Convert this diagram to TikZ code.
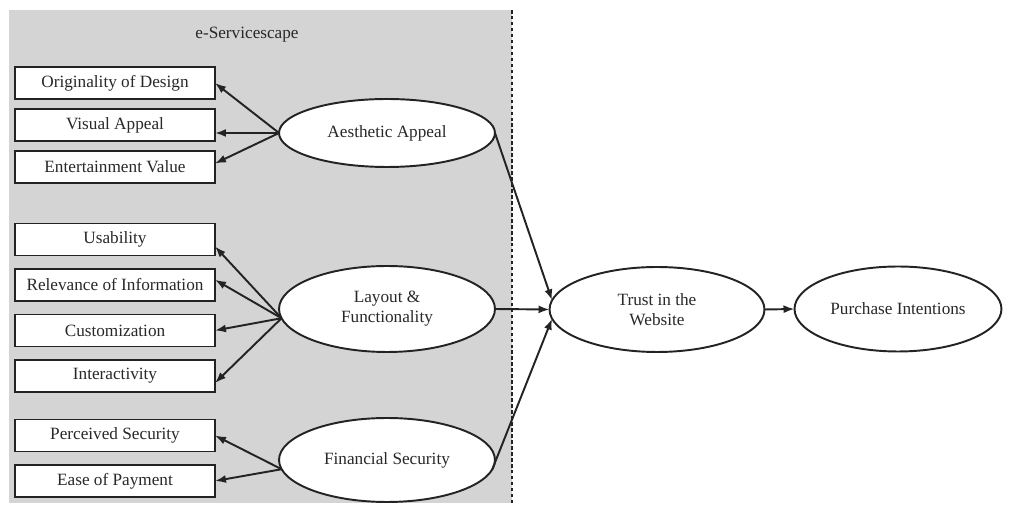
\documentclass[tikz,border=0pt]{standalone}
\usepackage{fontspec}
\setmainfont{Liberation Serif}
\usetikzlibrary{arrows.meta,positioning,shapes.geometric}
\definecolor{esedge}{RGB}{35,35,35}
\definecolor{esink}{RGB}{40,40,40}
\definecolor{esbg}{RGB}{212,212,212}
\tikzset{
  esbox/.style={
    draw=esedge, line width=1.1pt, fill=white, text=esink,
    minimum width=4cm, minimum height=0.64cm, inner sep=1pt, outer sep=0pt,
    font=\fontsize{9.8}{11.5}\selectfont
  },
  lat/.style={
    ellipse, draw=esedge, line width=1.1pt, fill=white, text=esink,
    minimum width=4.32cm, minimum height=1.72cm, inner sep=0pt, outer sep=0pt,
    align=center, font=\fontsize{9.8}{11.5}\selectfont
  },
  arr/.style={-{Latex[length=2.2mm,width=1.6mm]}, draw=esedge, line width=1.1pt},
  zone/.style={fill=esbg},
  zoneline/.style={draw=esedge, line width=0.9pt, dash pattern=on 2pt off 1.4pt},
  zonelabel/.style={text=esink, font=\fontsize{9.8}{11.5}\selectfont}
}
\begin{document}
\begin{tikzpicture}[x=0.02cm, y=-0.02cm]
  \useasboundingbox (0,0) rectangle (1012,506);
  % e-SERVICESCAPE
  \fill[zone] (9,10) rectangle (512,503);
  \draw[zoneline] (512,10) -- (512,506);
  \node[zonelabel] (es) at (247,35) {e-Servicescape};
  % AESTHETIC
  \node[esbox] (og) at (115,83) {Originality of Design};
  \node[esbox, below=0.2cm of og] (va) {Visual Appeal};
  \node[esbox, below=0.2cm of va] (ev) {Entertainment Value};
  \node[lat, minimum height=1.36cm] (aa) at (387,133) {Aesthetic Appeal};
  % LAYOUT
  \node[esbox] (us) at (115,239.5) {Usability};
  \node[esbox, below=0.27cm of us] (ri) {Relevance of Information};
  \node[esbox, below=0.27cm of ri] (cu) {Customization};
  \node[esbox, below=0.27cm of cu] (ia) {Interactivity};
  \node[lat] (lf) at (387,309) {Layout \&\\Functionality};
  % FINANCIAL
  \node[esbox] (ps) at (115,435.5) {Perceived Security};
  \node[esbox, below=0.27cm of ps] (ep) {Ease of Payment};
  \node[lat, minimum height=1.68cm] (fs) at (387,460) {Financial Security};
  % OUTCOMES
  \node[lat, minimum width=4.3cm, minimum height=1.7cm] (tw) at (657,309.5) {Trust in the\\Website};
  \node[lat, minimum width=4.14cm, minimum height=1.7cm] (pi) at (898,309) {Purchase Intentions};
  % indicators
  \draw[arr] (aa.west) -- (og.east);
  \draw[arr] (aa.west) -- (va.east |- aa.west);
  \draw[arr] (aa.west) -- (ev.2);
  \draw[arr] (lf.185) -- (us.-4);
  \draw[arr] (lf.185) -- (ri.3);
  \draw[arr] (lf.185) -- (cu.east);
  \draw[arr] (lf.185) -- (ia.-4);
  \draw[arr] (fs.185) -- (ps.east);
  \draw[arr] (fs.185) -- (ep.east);
  % paths
  \draw[arr] (aa.east) -- (tw.175);
  \draw[arr] (lf.east) -- (tw.west);
  \draw[arr] (fs.-5) -- (tw.185);
  \draw[arr] (tw.east) -- (pi.west);
\end{tikzpicture}
\end{document}
